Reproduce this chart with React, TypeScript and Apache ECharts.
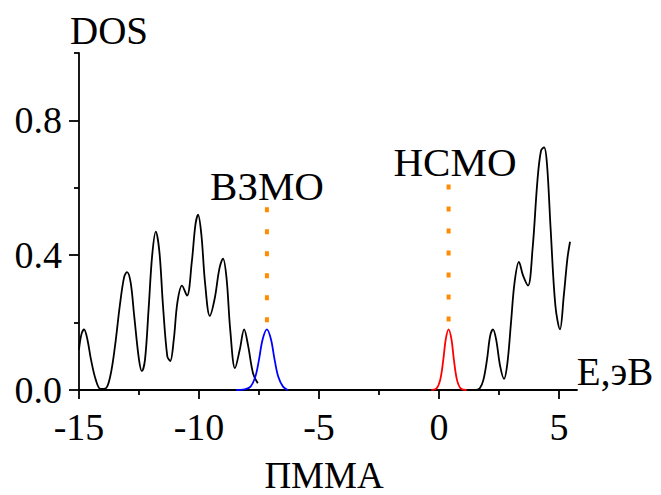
import React, { useEffect, useRef } from "react";
import * as echarts from "echarts";

// Total DOS (black), valence part and conduction part
const dosLow: [number, number][] = [
  [-15.0, 0.12], [-14.9, 0.165], [-14.79, 0.18], [-14.65, 0.15], [-14.5, 0.09],
  [-14.3, 0.03], [-14.1, 0.003], [-13.9, 0.004], [-13.7, 0.04], [-13.5, 0.13],
  [-13.3, 0.25], [-13.12, 0.335], [-13.0, 0.35], [-12.85, 0.32], [-12.7, 0.22],
  [-12.5, 0.09], [-12.38, 0.056], [-12.25, 0.09], [-12.1, 0.24], [-11.95, 0.4],
  [-11.8, 0.47], [-11.65, 0.41], [-11.5, 0.25], [-11.32, 0.1], [-11.2, 0.086],
  [-11.05, 0.15], [-10.9, 0.26], [-10.71, 0.31], [-10.5, 0.28], [-10.3, 0.38],
  [-10.15, 0.49], [-10.04, 0.52], [-9.9, 0.46], [-9.75, 0.32], [-9.55, 0.22],
  [-9.35, 0.27], [-9.15, 0.36], [-9.0, 0.39], [-8.85, 0.33], [-8.7, 0.18],
  [-8.5, 0.065], [-8.3, 0.12], [-8.12, 0.18], [-7.95, 0.13], [-7.75, 0.05],
  [-7.55, 0.02],
];
const dosHigh: [number, number][] = [
  [1.55, 0.0], [1.7, 0.005], [1.85, 0.03], [2.0, 0.09], [2.13, 0.16], [2.25, 0.18],
  [2.38, 0.15], [2.55, 0.07], [2.71, 0.033], [2.85, 0.08], [3.0, 0.2], [3.15, 0.32],
  [3.33, 0.38], [3.5, 0.34], [3.71, 0.31], [3.9, 0.42], [4.1, 0.62], [4.25, 0.71],
  [4.38, 0.72], [4.5, 0.67], [4.65, 0.48], [4.85, 0.25], [5.04, 0.18], [5.2, 0.28],
  [5.35, 0.39], [5.46, 0.44],
];
// HOMO (blue) and LUMO (red) levels
const homo: [number, number][] = [
  [-8.45, 0.0], [-8.1, 0.002], [-7.85, 0.01], [-7.65, 0.04], [-7.5, 0.09],
  [-7.35, 0.15], [-7.17, 0.18], [-7.0, 0.15], [-6.85, 0.09], [-6.7, 0.04],
  [-6.5, 0.01], [-6.3, 0.0],
];
const lumo: [number, number][] = [
  [-0.32, 0.0], [-0.1, 0.005], [0.05, 0.03], [0.18, 0.09], [0.28, 0.15],
  [0.4, 0.18], [0.52, 0.15], [0.62, 0.09], [0.75, 0.03], [0.9, 0.005], [1.15, 0.0],
];
const homoMarker: [number, number][] = [[-7.17, 0.542], [-7.17, 0.2]];
const lumoMarker: [number, number][] = [[0.4, 0.61], [0.4, 0.2]];

const xMajor = [-15, -10, -5, 0, 5];
const xMinor = [-12.5, -7.5, -2.5, 2.5];
const yMajor = [0, 0.4, 0.8];
const yMinor = [0.2, 0.6, 1.0];

const FONT = "Liberation Serif";

export default function App() {
  const ref = useRef<HTMLDivElement>(null);
  useEffect(() => {
    if (!ref.current) return;
    const chart = echarts.init(ref.current, null, { renderer: "svg" });
    const axisLineStyle = { color: "#000", width: 1.8 };
    const grid = { left: 79, right: 84, top: 53, bottom: 105, containLabel: false };
    const xBase = { type: "value", min: -15, max: 5.75, position: "bottom", splitLine: { show: false } };
    const yBase = { type: "value", min: 0, max: 1.0, position: "left", splitLine: { show: false } };
    const line = (data: [number, number][], color: string) => ({
      type: "line",
      data,
      smooth: 0.35,
      showSymbol: false,
      symbol: "none",
      lineStyle: { color, width: 1.8 },
      z: 3,
    });
    const dotted = (data: [number, number][]) => ({
      type: "line",
      data,
      showSymbol: false,
      symbol: "none",
      lineStyle: { color: "#ff8c00", width: 4, type: [5, 17] },
      z: 2,
    });
    const txt = (text: string, x: number, y: number, size: number) => ({
      type: "text",
      x,
      y,
      style: {
        text,
        fontFamily: FONT,
        fontSize: size,
        fill: "#000",
        align: "center",
        verticalAlign: "middle",
      },
    });
    chart.setOption({
      animation: false,
      textStyle: { fontFamily: FONT },
      grid,
      xAxis: [
        {
          ...xBase,
          axisLine: { show: true, onZero: false, lineStyle: axisLineStyle },
          axisTick: { show: true, length: 9, customValues: xMajor, lineStyle: axisLineStyle },
          axisLabel: {
            customValues: xMajor,
            margin: 18,
            color: "#000",
            fontFamily: FONT,
            fontSize: 38,
          },
        },
        {
          ...xBase,
          axisLine: { show: false, onZero: false },
          axisTick: { show: true, length: 5, customValues: xMinor, lineStyle: axisLineStyle },
          axisLabel: { show: false },
        },
      ],
      yAxis: [
        {
          ...yBase,
          axisLine: { show: true, onZero: false, lineStyle: axisLineStyle },
          axisTick: { show: true, length: 10, customValues: yMajor, lineStyle: axisLineStyle },
          axisLabel: {
            customValues: yMajor,
            margin: 17,
            color: "#000",
            fontFamily: FONT,
            fontSize: 38,
            formatter: (v: number) => v.toFixed(1),
          },
        },
        {
          ...yBase,
          axisLine: { show: false, onZero: false },
          axisTick: { show: true, length: 5, customValues: yMinor, lineStyle: axisLineStyle },
          axisLabel: { show: false },
        },
      ],
      series: [
        line(dosLow, "#000"),
        line(dosHigh, "#000"),
        line(homo, "#0000ff"),
        line(lumo, "#ff0000"),
        dotted(homoMarker),
        dotted(lumoMarker),
      ],
      graphic: [
        txt("DOS", 109, 30, 39),
        txt("E,эВ", 615, 371, 39),
        txt("ВЗМО", 267, 186, 41),
        txt("НСМО", 455, 162, 41),
        txt("ПММА", 324, 475, 37),
      ],
    });
    return () => chart.dispose();
  }, []);
  return (
    <>
      <style>{`svg text { font-family: "Liberation Serif", serif !important; }`}</style>
      <div
        ref={ref}
        style={{ position: "fixed", left: 0, top: 0, width: 661, height: 495, background: "#fff" }}
      />
    </>
  );
}
